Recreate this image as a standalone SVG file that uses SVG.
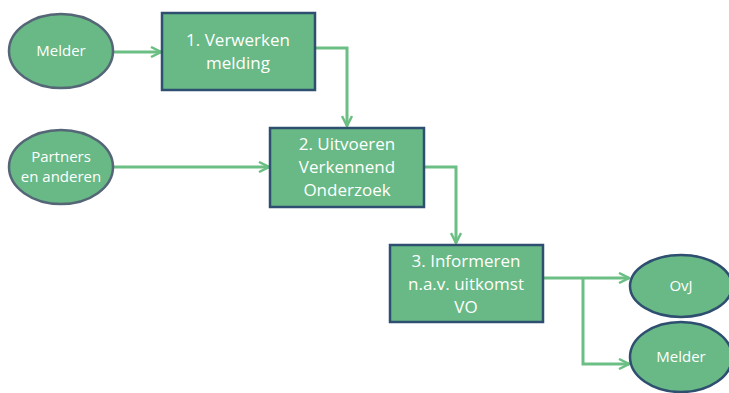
<svg xmlns="http://www.w3.org/2000/svg" width="729" height="393" viewBox="0 0 729 393">
<defs>
<style>
.box{fill:#68b985;stroke:#2f4f70;stroke-width:2.5}
.ell{fill:#68b985;stroke:#556677;stroke-width:2.5}
.ell2{fill:#68b985;stroke:#2f4f70;stroke-width:2.5}
.t{font-family:"Open Sans","Liberation Sans",sans-serif;font-size:17px;fill:#ffffff;text-anchor:middle}
.t2{font-family:"Open Sans","Liberation Sans",sans-serif;font-size:15px;fill:#ffffff;text-anchor:middle}
.c{fill:none;stroke:#6cbf84;stroke-width:3;marker-end:url(#ah)}
</style>
<marker id="ah" viewBox="0 0 12 12" refX="11" refY="6" markerWidth="12" markerHeight="12" markerUnits="userSpaceOnUse" orient="auto">
<path d="M1,1 L11,6 L1,11" fill="none" stroke="#6cbf84" stroke-width="2.5"/>
</marker>
</defs>
<g id="connectors">
<path class="c" d="M113,52 L161,52"/>
<path class="c" d="M315,48 L347,48 L347,126"/>
<path class="c" d="M113,167 L269,167"/>
<path class="c" d="M424,167 L456,167 L456,243"/>
<path class="c" d="M543,278 L629,278"/>
<path class="c" d="M583,278 L583,364 L629,364"/>
</g>
<g id="melder1">
<ellipse class="ell" cx="61" cy="51" rx="52" ry="37"/>
<text class="t2" x="61" y="56">Melder</text>
</g>
<g id="partners">
<ellipse class="ell" cx="61" cy="167" rx="52" ry="37"/>
<text class="t2" x="61" y="162">Partners</text>
<text class="t2" x="61" y="182">en anderen</text>
</g>
<g id="box1">
<rect class="box" x="162" y="13" width="153" height="77"/>
<text class="t" x="238" y="46">1. Verwerken</text>
<text class="t" x="238" y="69">melding</text>
</g>
<g id="box2">
<rect class="box" x="270" y="128" width="154" height="79"/>
<text class="t" x="347" y="150">2. Uitvoeren</text>
<text class="t" x="347" y="173">Verkennend</text>
<text class="t" x="347" y="196">Onderzoek</text>
</g>
<g id="box3">
<rect class="box" x="390" y="245" width="153" height="77"/>
<text class="t" x="466" y="267">3. Informeren</text>
<text class="t" x="466" y="290">n.a.v. uitkomst</text>
<text class="t" x="466" y="313">VO</text>
</g>
<g id="ovj">
<ellipse class="ell2" cx="681" cy="286" rx="51" ry="31"/>
<text class="t2" x="681" y="291">OvJ</text>
</g>
<g id="melder2">
<ellipse class="ell2" cx="681" cy="357" rx="51" ry="35"/>
<text class="t2" x="681" y="362">Melder</text>
</g>
</svg>
